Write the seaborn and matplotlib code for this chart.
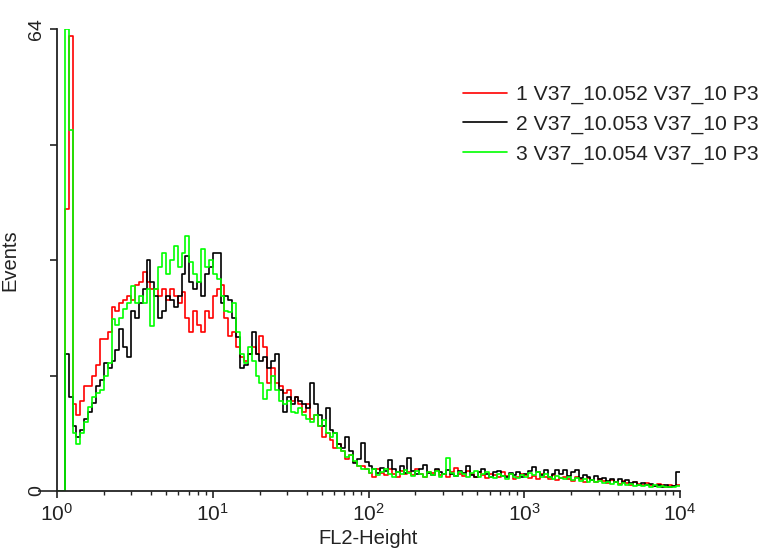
import numpy as np
import pandas as pd
import matplotlib
matplotlib.use("Agg")
import matplotlib.pyplot as plt
import matplotlib.transforms as mtransforms
import seaborn as sns
from matplotlib.lines import Line2D

# ---- data (40 channels per decade, 10^0 .. 10^4) ----
labels = ["1 V37_10.052 V37_10 P3", "2 V37_10.053 V37_10 P3", "3 V37_10.054 V37_10 P3"]
colors = ["#ff0000", "#000000", "#00ff00"]

red = [0, 0, 39, 63, 12, 10.5, 12.5, 14.5, 14.5, 16,
       17.5, 21, 21, 22, 25.5, 25, 26, 26.5, 27, 26.5,
       28.5, 29, 30.3, 29, 28, 28, 27, 28, 26.5, 28,
       27, 26, 27.5, 24, 22, 25, 23, 22, 25, 24,
       27, 28, 28.5, 24, 21.5, 22, 20, 18.5, 18, 19,
       20, 19, 21.5, 20, 15, 17, 15, 14.5, 13.6, 14,
       12.5, 13, 12, 11, 12, 10, 10.5, 9, 7.5, 8,
       7, 6, 6.5, 5.5, 4.5, 5, 4, 3.5, 3.5, 3,
       2.5, 2.0, 3.0, 2.5, 2.2, 3.0, 2.4, 2.0, 2.8, 2.3,
       2.6, 2.2, 3.0, 2.4, 2.0, 2.7, 2.5, 2.9, 2.2, 2.4,
       2.0, 2.6, 3.2, 2.3, 2.1, 2.8, 2.4, 2.0, 2.6, 2.2,
       1.8, 2.4, 2.2, 1.9, 2.6, 2.1, 2.3, 1.7, 2.0, 2.4,
       2.2, 1.8, 2.1, 1.6, 2.3, 1.9, 1.7, 2.2, 1.5, 1.8,
       2.0, 1.6, 1.4, 1.9, 1.7, 1.3, 1.8, 1.5, 1.2, 1.6,
       1.4, 1.1, 1.5, 1.2, 1.0, 1.4, 1.1, 0.9, 1.2, 1.0,
       0.8, 1.1, 0.9, 0.7, 1.0, 0.8, 0.6, 0.9, 0.7, 0.8]

black = [0, 0, 19, 13, 9, 7.5, 8.5, 10, 11, 12.2,
         14.5, 15.4, 17.8, 17, 18, 19.6, 22.4, 20, 18.6, 25,
         24, 26, 28, 32, 29, 27, 24, 25, 27, 26.5,
         25.5, 27, 30, 32.5, 29, 28, 29, 27, 30, 31,
         33, 33, 26, 27, 26.5, 24, 21.4, 17, 17.5, 19,
         22, 19, 18, 18.5, 17, 18, 19, 14, 11, 13,
         12, 13, 12.5, 12, 11.5, 15, 12, 10.5, 9, 11.5,
         8.5, 8, 6.5, 6, 7.5, 5.5, 3.9, 4.5, 6.7, 4,
         3.5, 3.0, 2.5, 3.2, 2.8, 4.3, 3.0, 2.6, 3.4, 2.5,
         4.6, 2.8, 2.4, 3.0, 3.6, 2.5, 2.2, 3.1, 2.7, 2.3,
         2.9, 2.4, 2.1, 2.8, 2.5, 3.4, 2.2, 2.0, 2.7, 3.0,
         2.3, 2.0, 2.6, 2.8, 2.1, 1.9, 2.5, 2.2, 2.6, 2.0,
         2.4, 2.8, 3.3, 2.6, 2.2, 2.9, 2.0, 2.3, 2.9, 2.4,
         2.9, 2.1, 2.7, 2.9, 1.8, 2.2, 1.9, 1.5, 2.1, 1.6,
         1.8, 1.4, 1.7, 1.2, 1.6, 1.3, 1.5, 1.1, 1.2, 0.9,
         1.1, 0.8, 1.0, 0.7, 0.9, 0.6, 0.8, 0.6, 0.7, 2.6]

green = [0, 0, 64, 50, 8, 6.5, 8, 9.5, 11.7, 13,
         13.6, 14, 16, 17.8, 23.8, 23, 24, 25.2, 26, 28.4,
         26, 27, 26, 28, 22.8, 28, 31, 33, 30, 32,
         34, 31, 33, 35.3, 31.7, 30, 29, 33.5, 31, 32,
         30, 29.4, 27, 25, 24.8, 26, 22, 19, 17.8, 20,
         18, 16, 15, 12.7, 14, 16, 14, 12.5, 12, 12.5,
         11, 10.8, 11.5, 10.5, 10, 9.5, 10.5, 9, 9.9, 8,
         7.5, 8, 6, 5.5, 4.7, 5, 4.2, 3.5, 3, 3,
         2.5, 3.0, 2.2, 2.6, 3.1, 2.4, 2.0, 2.7, 2.3, 2.9,
         2.5, 2.1, 2.8, 2.3, 1.9, 2.6, 2.2, 2.8, 2.0, 2.4,
         4.6, 2.5, 2.1, 2.7, 2.3, 1.9, 2.5, 2.8, 2.0, 2.3,
         2.6, 2.0, 1.8, 2.4, 2.1, 1.7, 2.3, 2.0, 1.8, 2.2,
         2.0, 2.5, 2.2, 2.6, 1.9, 2.3, 2.0, 1.7, 2.1, 1.8,
         1.6, 2.0, 1.5, 1.8, 1.4, 1.7, 1.3, 1.5, 1.2, 1.4,
         1.1, 1.3, 1.0, 1.2, 0.9, 1.1, 0.8, 1.0, 0.7, 0.9,
         0.7, 0.8, 0.6, 0.8, 0.5, 0.7, 0.6, 0.5, 0.6, 0.7]

channels_per_decade = 40
xticks = [1, 10, 100, 1000, 10000]
xticklabels = [r"$10^{0}$", r"$10^{1}$", r"$10^{2}$", r"$10^{3}$", r"$10^{4}$"]
yticks = [0, 16, 32, 48, 64]
yticklabels = ["0", "", "", "", "64"]

# ---- build long table (bin left edges, steps-post; last value repeated at right edge) ----
rows = []
for lab, vals in zip(labels, [red, black, green]):
    n = len(vals)
    edges = 10 ** (np.arange(n + 1) / channels_per_decade)
    v = list(vals) + [vals[-1]]
    for e, y in zip(edges, v):
        rows.append({"FL2": e, "Events": y, "sample": lab})
df = pd.DataFrame(rows)

sns.set_style("white")
plt.rcParams["font.family"] = ["Liberation Sans", "DejaVu Sans"]
plt.rcParams["mathtext.fontset"] = "custom"
plt.rcParams["mathtext.rm"] = "Liberation Sans"
plt.rcParams["mathtext.it"] = "Liberation Sans"

fig = plt.figure(figsize=(7.65, 5.48), dpi=100)
ax = fig.add_axes([57 / 765, 57 / 548, 623 / 765, 462 / 548])

sns.lineplot(data=df, x="FL2", y="Events", hue="sample", hue_order=labels,
             palette=colors, estimator=None, drawstyle="steps-post",
             linewidth=1.2, legend=False, ax=ax)

ax.set_xscale("log")
ax.set_xlim(1, 10000)
ax.set_ylim(0, 64)
for s in ["top", "right"]:
    ax.spines[s].set_visible(False)
for s in ["left", "bottom"]:
    ax.spines[s].set_color("#222222")
    ax.spines[s].set_linewidth(1.3)

ax.set_xticks(xticks)
ax.set_xticklabels(xticklabels, fontsize=15, color="#222222")
offset = mtransforms.ScaledTranslation(5 / 100, 0, fig.dpi_scale_trans)
for lbl in ax.get_xticklabels():
    lbl.set_transform(lbl.get_transform() + offset)
ax.set_yticks(yticks)
ax.set_yticklabels(yticklabels, rotation=90, va="center", fontsize=14, color="#222222")
ax.tick_params(axis="both", which="major", direction="out", length=5, width=1.2,
               color="#222222", bottom=True, left=True)
ax.tick_params(axis="x", which="minor", direction="out", length=3, width=1.0,
               color="#222222", bottom=True)
ax.yaxis.get_major_ticks()[0].tick1line.set_markersize(14)

ax.set_xlabel("FL2-Height", fontsize=14.5, color="#222222", labelpad=3)
ax.set_ylabel("Events", fontsize=14.5, color="#222222", labelpad=6)

handles = [Line2D([], [], color=c, linewidth=1.2) for c in colors]
fig.legend(handles, labels, loc="upper left", bbox_to_anchor=(463 / 765, 1 - 85 / 548),
           frameon=False, fontsize=15.2, handlelength=2.1, handletextpad=0.4,
           labelspacing=0.5, borderpad=0, borderaxespad=0, labelcolor="#222222")

fig.savefig("out.png", dpi=100)
